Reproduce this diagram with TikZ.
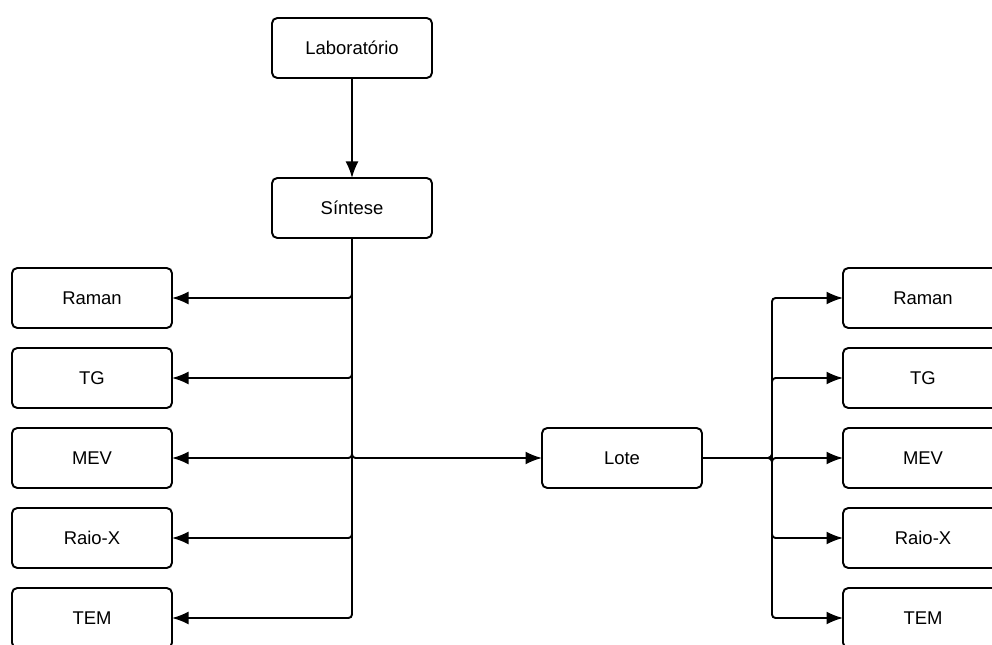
\documentclass[tikz,border=0pt]{standalone}
\usepackage{fontspec}
\setmainfont{Liberation Sans}
\usepackage{tikz}
\usetikzlibrary{arrows.meta,positioning}

\begin{document}
\begin{tikzpicture}[
        node distance=0.4cm and 1.4cm,
        block/.style={rectangle, draw, line width=1.1pt, outer sep=0pt, rounded corners=3pt, minimum width=3.2cm, minimum height=1.2cm, align=center, font=\fontsize{10.5}{12}\selectfont},
        arrowstyle/.style={-{Latex[length=3.3mm,width=2.6mm]}, line width=1.1pt, rounded corners=2pt}
    ]
        \useasboundingbox (0,0) rectangle (19.84,12.88);

        \node[block] (lab) at (7.04,11.92) {Laboratório};
        \node[block] (sintese) at (7.04,8.72) {Síntese};
        \node[block] (lote) at (12.44,3.72) {Lote};

        % amostras da síntese
        \node[block] (ramanA) at (1.84,6.92) {Raman};
        \node[block, below=of ramanA] (tgA) {TG};
        \node[block, below=of tgA] (mevA) {MEV};
        \node[block, below=of mevA] (raioxA) {Raio-X};
        \node[block, below=of raioxA] (temA) {TEM};

        % amostras do lote
        \node[block] (ramanB) at (18.46,6.92) {Raman};
        \node[block, below=of ramanB] (tgB) {TG};
        \node[block, below=of tgB] (mevB) {MEV};
        \node[block, below=of mevB] (raioxB) {Raio-X};
        \node[block, below=of raioxB] (temB) {TEM};

        \coordinate (split) at (15.44,3.72);

        \draw[arrowstyle] (lab) -- (sintese);
        \foreach \n in {ramanA,tgA,mevA,raioxA,temA}
            \draw[arrowstyle] (sintese.south) |- (\n.east);
        \draw[arrowstyle] (sintese.south) |- (lote.west);
        \foreach \n in {ramanB,tgB,mevB,raioxB,temB}
            \draw[arrowstyle] (lote.east) -- (split) |- (\n.west);
    \end{tikzpicture}
\end{document}
